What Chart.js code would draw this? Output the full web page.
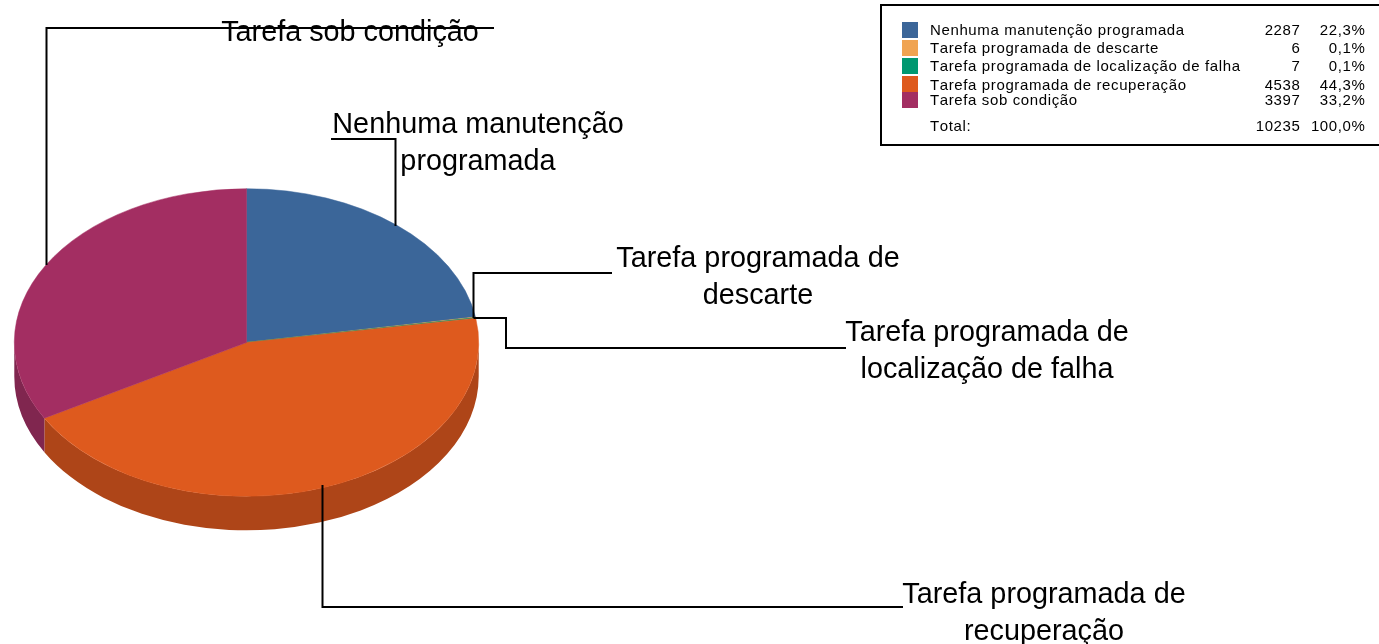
<!DOCTYPE html>
<html>
<head>
<meta charset="utf-8">
<title>Tarefas de manutenção</title>
<script src="https://cdn.jsdelivr.net/npm/chart.js@4"></script>
<style>
  html, body { margin: 0; padding: 0; background: #fff; overflow: hidden; }
  #box { position: relative; width: 1379px; height: 644px; }
</style>
</head>
<body>
<div id="box"><canvas id="pie" width="1379" height="644"></canvas></div>
<script>
const categorias = ['Nenhuma manutenção programada', 'Tarefa programada de descarte', 'Tarefa programada de localização de falha', 'Tarefa programada de recuperação', 'Tarefa sob condição'];
const valores = [2287, 6, 7, 4538, 3397];
const percentuais = ['22,3%', '0,1%', '0,1%', '44,3%', '33,2%'];
const totalValor = '10235';
const totalPercentual = '100,0%';
const cores = ['#3b6699', '#f0a452', '#009870', '#de5a1e', '#a32e62'];
const coresLado = ['#2d4e75', '#b87d3f', '#007455', '#ae4518', '#80264f'];

const FONTE = '"Liberation Sans", Arial, sans-serif';
const ACHATAR = 154 / 232.5;
const ALTURA = 34;

// rotulos das fatias: linhas de texto, centro em x, base de cada linha
const rotulos = [
    { linhas: ['Nenhuma manutenção', 'programada'], x: 478, y: [133, 170] },
    { linhas: ['Tarefa programada de', 'descarte'], x: 758, y: [267, 304] },
    { linhas: ['Tarefa programada de', 'localização de falha'], x: 987, y: [341, 378] },
    { linhas: ['Tarefa programada de', 'recuperação'], x: 1044, y: [603, 640] },
    { linhas: ['Tarefa sob condição'], x: 350, y: [41] }
];

// linhas de chamada: parte da borda da fatia, depois segue pelos cotovelos
const chamadas = [
    { r: 0.993, cotovelos: a => [[a.x, 139], [331, 139]] },
    { r: 0.988, cotovelos: a => [[a.x, 273], [612, 273]] },
    { r: 0.988, cotovelos: a => [[506, a.y], [506, 348], [846, 348]] },
    { r: 0.982, cotovelos: a => [[a.x, 607], [903, 607]] },
    { r: 1.0, cotovelos: a => [[a.x, 28], [494, 28]] }
];

function pontoBorda(arc, r) {
    const meio = (arc.startAngle + arc.endAngle) / 2;
    return {
        x: Math.round(arc.x + Math.cos(meio) * arc.outerRadius * r) + 0.5,
        y: Math.round(arc.y + Math.sin(meio) * arc.outerRadius * r * ACHATAR)
    };
}

const pizza3d = {
    id: 'pizza3d',
    beforeDatasetsDraw(chart) {
        const ctx = chart.ctx;
        const arcs = chart.getDatasetMeta(0).data;
        const c = arcs[0];
        const rx = c.outerRadius;
        const ry = rx * ACHATAR;
        // parede lateral: so a parte da frente (angulos de 0 a PI)
        arcs.forEach((arc, i) => {
            [0, 2 * Math.PI].forEach(volta => {
                const ini = Math.max(arc.startAngle, volta);
                const fim = Math.min(arc.endAngle, volta + Math.PI);
                if (fim <= ini) return;
                ctx.beginPath();
                ctx.ellipse(c.x, c.y, rx, ry, 0, ini, fim);
                ctx.ellipse(c.x, c.y + ALTURA, rx, ry, 0, fim, ini, true);
                ctx.closePath();
                ctx.fillStyle = coresLado[i];
                ctx.fill();
            });
        });
        ctx.save();
        ctx.translate(c.x, c.y);
        ctx.scale(1, ACHATAR);
        ctx.translate(-c.x, -c.y);
    },
    afterDatasetsDraw(chart) {
        chart.ctx.restore();
    },
    afterDraw(chart) {
        const ctx = chart.ctx;
        const arcs = chart.getDatasetMeta(0).data;

        ctx.save();
        ctx.strokeStyle = '#000';
        ctx.lineWidth = 2;
        chamadas.forEach((ch, i) => {
            const a = pontoBorda(arcs[i], ch.r);
            ctx.beginPath();
            ctx.moveTo(a.x, a.y);
            ch.cotovelos(a).forEach(p => ctx.lineTo(p[0], p[1]));
            ctx.stroke();
        });

        ctx.fillStyle = '#000';
        ctx.textBaseline = 'alphabetic';
        ctx.font = '28.8px ' + FONTE;
        ctx.textAlign = 'center';
        rotulos.forEach(r => {
            r.linhas.forEach((txt, j) => ctx.fillText(txt, r.x, r.y[j]));
        });

        // legenda
        ctx.lineWidth = 2;
        ctx.strokeRect(881, 5, 520, 140);
        const topoQuadro = [22, 40, 58, 76, 92];
        const baseTexto = [35, 53, 71, 90, 105];
        ctx.font = '15px ' + FONTE;
        ctx.letterSpacing = '0.62px';
        ctx.fontKerning = 'none';
        categorias.forEach((nome, i) => {
            ctx.fillStyle = cores[i];
            ctx.fillRect(902, topoQuadro[i], 16, 16);
            ctx.fillStyle = '#000';
            ctx.textAlign = 'left';
            ctx.fillText(nome, 930, baseTexto[i]);
            ctx.textAlign = 'right';
            ctx.fillText(String(valores[i]), 1300.5, baseTexto[i]);
            ctx.fillText(percentuais[i], 1365.5, baseTexto[i]);
        });
        ctx.textAlign = 'left';
        ctx.fillText('Total:', 930, 131);
        ctx.textAlign = 'right';
        ctx.fillText(totalValor, 1300.5, 131);
        ctx.fillText(totalPercentual, 1365.5, 131);
        ctx.restore();
    }
};

new Chart(document.getElementById('pie').getContext('2d'), {
    type: 'pie',
    data: {
        labels: categorias,
        datasets: [{ data: valores, backgroundColor: cores, borderColor: cores, borderWidth: 0.6 }]
    },
    options: {
        animation: false,
        responsive: false,
        layout: { padding: { left: 14, right: 900, top: 110, bottom: 69 } },
        plugins: { legend: { display: false }, tooltip: { enabled: false } }
    },
    plugins: [pizza3d]
});
</script>
</body>
</html>
